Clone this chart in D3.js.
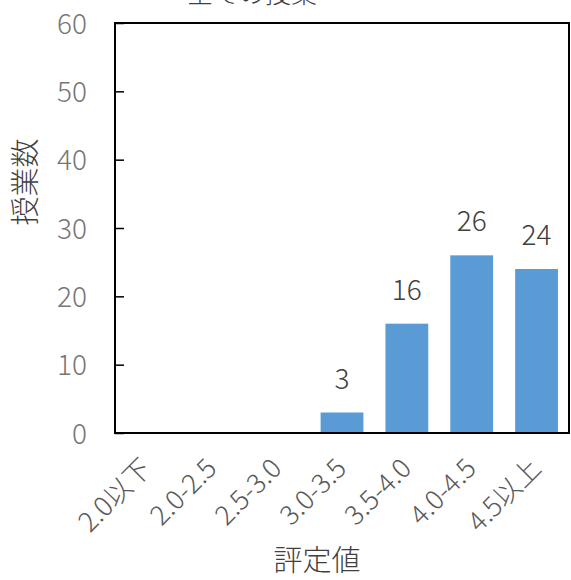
<!DOCTYPE html>
<html>
<head>
<meta charset="utf-8">
<script src="https://cdn.jsdelivr.net/npm/d3@7"></script>
<style>
  body { margin: 0; background: #fff; }
  svg text { font-family: "Noto Sans CJK JP", "Noto Sans", sans-serif; font-weight: 300; }
</style>
</head>
<body>
<div id="chart"></div>
<script>
// data
let categories = ['2.0以下', '2.0-2.5', '2.5-3.0', '3.0-3.5', '3.5-4.0', '4.0-4.5', '4.5以上'];
let counts = [0, 0, 0, 3, 16, 26, 24];
let yTicks = [0, 10, 20, 30, 40, 50, 60];
let titleText = '全ての授業';
let xTitle = '評定値';
let yTitle = '授業数';

const width = 571, height = 580;
const margin = { top: 23, right: 2, bottom: 147, left: 115 };
const innerW = width - margin.left - margin.right;
const innerH = height - margin.top - margin.bottom;

let svg = d3.select('#chart').append('svg')
    .attr('width', width)
    .attr('height', height);

// title is mostly cut off in the reference
svg.append('text')
    .attr('x', 252)
    .attr('y', 3)
    .attr('text-anchor', 'middle')
    .attr('font-size', 26)
    .attr('fill', '#404040')
    .text(titleText);

let x = d3.scaleBand().domain(categories).range([0, innerW]).paddingInner(0.34).paddingOuter(0.17);
let y = d3.scaleLinear().domain([0, 60]).range([innerH, 0]);

let g = svg.append('g').attr('transform', `translate(${margin.left},${margin.top})`);

// bars
g.selectAll('.bar')
    .data(counts)
    .enter().append('rect')
    .classed('bar', true)
    .attr('x', (d, i) => x(categories[i]))
    .attr('y', d => y(d))
    .attr('width', x.bandwidth())
    .attr('height', d => innerH - y(d))
    .attr('fill', '#5b9bd5');

// value labels (only where there is a bar)
g.selectAll('.value')
    .data(counts.map((d, i) => ({ v: d, c: categories[i] })).filter(d => d.v > 0))
    .enter().append('text')
    .classed('value', true)
    .attr('x', d => x(d.c) + x.bandwidth() / 2)
    .attr('y', d => y(d.v) - 24)
    .attr('text-anchor', 'middle')
    .attr('font-size', 28)
    .attr('fill', '#404040')
    .text(d => d.v);

// y axis: inside ticks, grey labels
let yAxis = g.append('g')
    .call(d3.axisLeft(y).tickValues(yTicks).tickSize(-9).tickPadding(28));
yAxis.select('.domain').remove();
yAxis.selectAll('line').attr('stroke', '#000').attr('stroke-width', 1.5);
yAxis.selectAll('text')
    .attr('font-size', 28)
    .attr('fill', '#767676')
    .attr('dy', '0.36em');

// frame
g.append('rect')
    .attr('width', innerW)
    .attr('height', innerH)
    .attr('fill', 'none')
    .attr('stroke', '#000')
    .attr('stroke-width', 2);

// x category labels, rotated
g.selectAll('.cat')
    .data(categories)
    .enter().append('text')
    .classed('cat', true)
    .attr('transform', d => `translate(${x(d) + x.bandwidth() / 2 + 6},${innerH + 37}) rotate(-45)`)
    .attr('text-anchor', 'end')
    .attr('font-size', 27)
    .attr('fill', '#595959')
    .text(d => d);

// axis titles
svg.append('text')
    .attr('x', 317)
    .attr('y', 571)
    .attr('text-anchor', 'middle')
    .attr('font-size', 29)
    .attr('fill', '#404040')
    .text(xTitle);

svg.append('text')
    .attr('transform', 'translate(36,182) rotate(-90)')
    .attr('text-anchor', 'middle')
    .attr('font-size', 29)
    .attr('fill', '#404040')
    .text(yTitle);
</script>
</body>
</html>
